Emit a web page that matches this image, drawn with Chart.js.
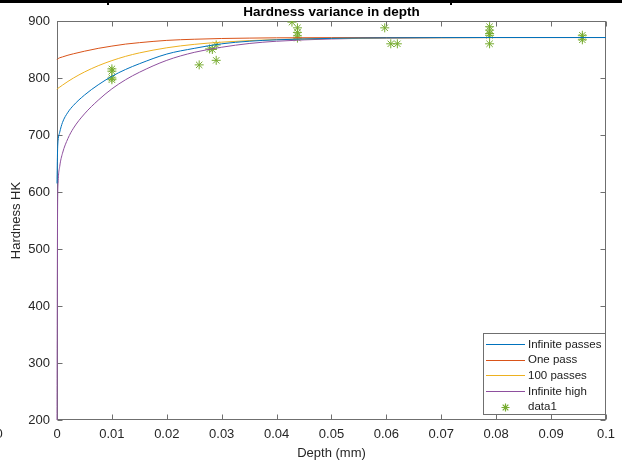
<!DOCTYPE html>
<html>
<head>
<meta charset="utf-8">
<script src="https://cdn.jsdelivr.net/npm/chart.js@4/dist/chart.umd.min.js"></script>
<style>
  html, body { margin: 0; padding: 0; background: #ffffff; overflow: hidden; }
  #wrap { position: relative; width: 622px; height: 465px; }
</style>
</head>
<body>
<div id="wrap"><canvas id="c" width="622" height="465"></canvas></div>
<script>
// Depth samples (mm) for the model curves
const depthSamples   = [0, 0.0001, 0.0002, 0.0005, 0.001, 0.002, 0.003, 0.005, 0.0075, 0.01, 0.0125, 0.015, 0.02, 0.025, 0.03, 0.035, 0.04, 0.05, 0.06, 0.08, 0.1];

// Model hardness (HK) at each depth sample
const infinitePasses = [615, 672, 690, 705, 722, 740, 752, 770, 788, 803, 815, 825, 842, 852, 860, 864.5, 867, 869.5, 870.5, 871, 871];
const onePass        = [832, 833, 834, 835.5, 837, 840, 842.5, 847, 852, 856, 859.5, 862, 866, 868, 869.3, 870, 870.5, 870.8, 871, 871, 871];
const hundredPasses  = [780, 781, 782.3, 784, 787.5, 794, 800, 810.5, 821.5, 830.5, 838, 844, 853, 859, 862.9, 865.6, 867.4, 869.4, 870.3, 870.9, 871];
const infiniteHigh   = [200, 560, 615, 645, 668, 694, 712, 737, 761, 781, 797, 810, 831, 845, 854, 860.5, 864.5, 868.5, 870, 871, 871];

// Measured hardness points
const measuredDepth    = [0.01, 0.01, 0.01, 0.01, 0.0259, 0.0278, 0.0283, 0.029, 0.029, 0.0428, 0.0438, 0.0438, 0.0438, 0.0438, 0.0597, 0.0608, 0.062, 0.0788, 0.0788, 0.0788, 0.0788, 0.0788, 0.0957, 0.0957, 0.0957];
const measuredHardness = [816, 812, 800, 797, 823, 851, 850, 858, 831, 898, 888, 880, 874, 870, 888, 860, 860, 890, 884, 878, 875, 860, 875, 871, 867];

// Axis ticks
const xTicks      = [0, 0.01, 0.02, 0.03, 0.04, 0.05, 0.06, 0.07, 0.08, 0.09, 0.1];
const xTickLabels = ['0', '0.01', '0.02', '0.03', '0.04', '0.05', '0.06', '0.07', '0.08', '0.09', '0.1'];
const yTicks      = [200, 300, 400, 500, 600, 700, 800, 900];
const yTickLabels = ['200', '300', '400', '500', '600', '700', '800', '900'];

const FONT = '"Liberation Sans", Arial, Helvetica, sans-serif';
const AXIS_COLOR = '#6f6f6f';
const TEXT_COLOR = '#262626';

function pairs(xs, ys) { return xs.map((x, i) => ({ x: x, y: ys[i] })); }

function curve(label, ys, color) {
  return {
    label: label,
    data: pairs(depthSamples, ys),
    showLine: true,
    borderColor: color,
    backgroundColor: color,
    borderWidth: 1,
    pointRadius: 0,
    pointHoverRadius: 0,
    cubicInterpolationMode: 'monotone',
    clip: 2,
    fill: false
  };
}

// Axes box with inward tick marks, drawn under the data
const frame = {
  id: 'frame',
  beforeDatasetsDraw(chart) {
    const ctx = chart.ctx;
    const a = chart.chartArea;
    const xs = chart.scales.x, ys = chart.scales.y;
    ctx.save();
    ctx.strokeStyle = AXIS_COLOR;
    ctx.lineWidth = 1;
    const L = Math.round(a.left) + 0.5, R = Math.round(a.right) - 0.5;
    const T = Math.round(a.top) + 0.5, B = Math.round(a.bottom) - 0.5;
    ctx.strokeRect(L, T, R - L, B - T);
    const tl = 5;
    ctx.beginPath();
    xTicks.forEach(v => {
      const px = Math.round(xs.getPixelForValue(v)) + 0.5;
      ctx.moveTo(px, B); ctx.lineTo(px, B - tl);
      ctx.moveTo(px, T); ctx.lineTo(px, T + tl);
    });
    yTicks.forEach(v => {
      const py = Math.round(ys.getPixelForValue(v)) + 0.5;
      ctx.moveTo(L, py); ctx.lineTo(L + tl, py);
      ctx.moveTo(R, py); ctx.lineTo(R - tl, py);
    });
    ctx.stroke();
    ctx.restore();
  }
};

// Title, legend and the strip along the top edge
const decorations = {
  id: 'decorations',
  afterDraw(chart) {
    const ctx = chart.ctx;
    const a = chart.chartArea;
    ctx.save();

    // title
    ctx.fillStyle = '#000000';
    ctx.font = 'bold 13.5px ' + FONT;
    ctx.textAlign = 'center';
    ctx.textBaseline = 'middle';
    ctx.fillText('Hardness variance in depth', (a.left + a.right) / 2, 12);

    // legend
    const lx = 483.5, ly = 333.5, lw = 122, lh = 81;
    ctx.fillStyle = '#ffffff';
    ctx.fillRect(lx, ly, lw, lh);
    ctx.strokeStyle = AXIS_COLOR;
    ctx.lineWidth = 1;
    ctx.strokeRect(lx, ly, lw, lh);
    ctx.font = '11.5px ' + FONT;
    ctx.textAlign = 'left';
    ctx.textBaseline = 'middle';
    chart.data.datasets.forEach((ds, i) => {
      const ry = 344 + i * 15.7;
      ctx.strokeStyle = ds.borderColor;
      ctx.lineWidth = 1.2;
      ctx.beginPath();
      if (ds.showLine) {
        ctx.moveTo(486, Math.round(ry) + 0.5);
        ctx.lineTo(525, Math.round(ry) + 0.5);
      } else {
        const cx = 505.5, cy = Math.round(ry) + 0.5, r = 4;
        const d = r * 0.7071;
        ctx.moveTo(cx - r, cy); ctx.lineTo(cx + r, cy);
        ctx.moveTo(cx, cy - r); ctx.lineTo(cx, cy + r);
        ctx.moveTo(cx - d, cy - d); ctx.lineTo(cx + d, cy + d);
        ctx.moveTo(cx - d, cy + d); ctx.lineTo(cx + d, cy - d);
      }
      ctx.stroke();
      ctx.fillStyle = '#1a1a1a';
      ctx.fillText(ds.label, 528, ry + 0.5);
    });

    // strip along the top edge of the page
    ctx.fillStyle = '#000000';
    ctx.fillRect(0, 0, 622, 3);
    ctx.fillRect(107, 0, 2, 5);
    ctx.fillRect(450, 0, 2, 5);

    // clipped label at the lower left edge
    ctx.fillStyle = TEXT_COLOR;
    ctx.font = '13px ' + FONT;
    ctx.textAlign = 'left';
    ctx.textBaseline = 'middle';
    ctx.fillText('0', -4.5, 434);

    ctx.restore();
  }
};

new Chart(document.getElementById('c'), {
  type: 'scatter',
  data: {
    datasets: [
      curve('Infinite passes', infinitePasses, '#0072BD'),
      curve('One pass', onePass, '#D95319'),
      curve('100 passes', hundredPasses, '#EDB120'),
      curve('Infinite high', infiniteHigh, '#8E4F9E'),
      {
        label: 'data1',
        data: pairs(measuredDepth, measuredHardness),
        showLine: false,
        pointStyle: 'star',
        pointRadius: 4.5,
        pointHoverRadius: 4.5,
        borderWidth: 1,
        borderColor: '#77AC30',
        backgroundColor: '#77AC30'
      }
    ]
  },
  options: {
    responsive: false,
    animation: false,
    devicePixelRatio: 1,
    layout: { padding: { top: 21, right: 14, left: 0, bottom: 0 } },
    plugins: {
      legend: { display: false },
      tooltip: { enabled: false },
      title: { display: false }
    },
    scales: {
      x: {
        type: 'linear',
        min: 0,
        max: 0.1,
        afterBuildTicks: s => { s.ticks = xTicks.map(v => ({ value: v })); },
        afterFit: s => { s.height = 45; },
        grid: { display: false, drawTicks: false },
        border: { display: false },
        ticks: {
          autoSkip: false,
          maxRotation: 0,
          padding: 7,
          color: TEXT_COLOR,
          font: { family: FONT, size: 13 },
          callback: (v, i) => xTickLabels[i]
        },
        title: {
          display: true,
          text: 'Depth (mm)',
          color: TEXT_COLOR,
          font: { family: FONT, size: 13 },
          padding: { top: 0, bottom: 4 }
        }
      },
      y: {
        type: 'linear',
        min: 200,
        max: 900,
        afterBuildTicks: s => { s.ticks = yTicks.map(v => ({ value: v })); },
        afterFit: s => { s.width = 57; },
        grid: { display: false, drawTicks: false },
        border: { display: false },
        ticks: {
          autoSkip: false,
          padding: 7,
          color: TEXT_COLOR,
          font: { family: FONT, size: 13 },
          callback: (v, i) => yTickLabels[i]
        },
        title: {
          display: true,
          text: 'Hardness HK',
          color: TEXT_COLOR,
          font: { family: FONT, size: 13 },
          padding: { top: 9, bottom: 0 }
        }
      }
    }
  },
  plugins: [frame, decorations]
});
</script>
</body>
</html>
